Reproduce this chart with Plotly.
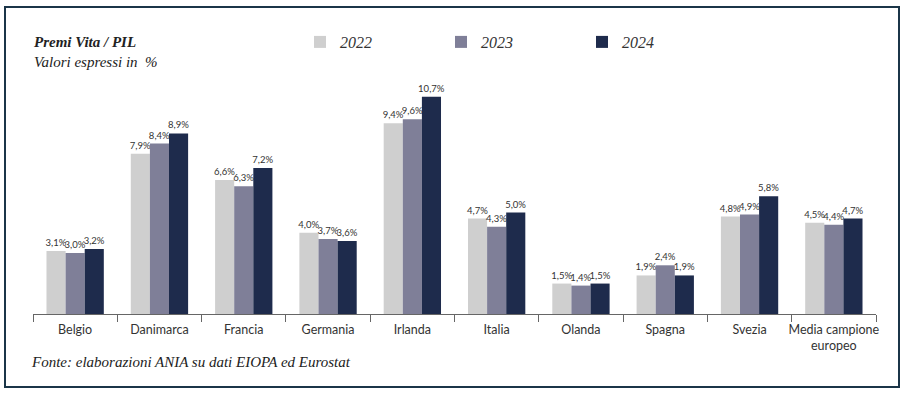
import plotly.graph_objects as go

categories = ["Belgio", "Danimarca", "Francia", "Germania", "Irlanda", "Italia",
              "Olanda", "Spagna", "Svezia", "Media campione<br>europeo"]
years = ["2022", "2023", "2024"]
v2022 = [3.1, 7.9, 6.6, 4.0, 9.4, 4.7, 1.5, 1.9, 4.8, 4.5]
v2023 = [3.0, 8.4, 6.3, 3.7, 9.6, 4.3, 1.4, 2.4, 4.9, 4.4]
v2024 = [3.2, 8.9, 7.2, 3.6, 10.7, 5.0, 1.5, 1.9, 5.8, 4.7]
colors = ["#cfcfcf", "#7f7f98", "#1e2b4c"]

W, H = 907, 393
L, R, T, B = 33, 876, 80, 314  # plot area in pixels

def px_x(p):
    return (p - L) / (R - L)

def px_y(p):
    return (B - p) / (B - T)

sans = "Lato"
serif = "Times New Roman"

fig = go.Figure()
for name, vals, col in zip(years, [v2022, v2023, v2024], colors):
    fig.add_trace(go.Bar(
        x=categories, y=vals, name=name, marker_color=col, marker_line_width=0,
        texttemplate="%{y:.1f}%", textposition="outside", constraintext="none",
        cliponaxis=False,
        textfont=dict(family=sans, size=9.5, color="#333333"),
    ))

fig.update_layout(
    width=W, height=H,
    margin=dict(l=L, r=W - R, t=T, b=H - B, autoexpand=False),
    paper_bgcolor="white", plot_bgcolor="white",
    separators=",.",
    barmode="group", bargap=0.32, bargroupgap=0.0,
    showlegend=True,
    legend=dict(
        orientation="h", xref="container", yref="container",
        x=300 / W, y=1 - 42 / H, xanchor="left", yanchor="middle",
        entrywidth=96, entrywidthmode="pixels",
        font=dict(family=serif, size=16, color="#333333", style="italic"),
        bgcolor="rgba(0,0,0,0)", traceorder="normal",
    ),
    xaxis=dict(
        showline=True, linecolor="#666666", linewidth=1,
        ticks="outside", tickson="boundaries", ticklen=7, tickcolor="#666666",
        tickangle=0, automargin=False, ticklabelstandoff=4,
        tickfont=dict(family=sans, size=12.5, color="#333333"),
        showgrid=False,
    ),
    yaxis=dict(range=[0, 11.53], visible=False, showgrid=False, automargin=False),
    annotations=[
        dict(text="<b><i>Premi Vita / PIL</i></b>", xref="paper", yref="paper",
             x=px_x(32), y=px_y(42), xanchor="left", yanchor="middle", showarrow=False,
             font=dict(family=serif, size=15, color="#222222")),
        dict(text="<i>Valori espressi in  %</i>", xref="paper", yref="paper",
             x=px_x(32), y=px_y(62), xanchor="left", yanchor="middle", showarrow=False,
             font=dict(family=serif, size=15, color="#222222")),
        dict(text="<i>Fonte: elaborazioni ANIA su dati EIOPA ed Eurostat</i>", xref="paper", yref="paper",
             x=px_x(29), y=px_y(362), xanchor="left", yanchor="middle", showarrow=False,
             font=dict(family=serif, size=15, color="#222222")),
    ],
    shapes=[
        dict(type="rect", xref="paper", yref="paper",
             x0=px_x(5), x1=px_x(899), y0=px_y(387), y1=px_y(7),
             line=dict(color="#1b3548", width=2), fillcolor="rgba(0,0,0,0)", layer="below"),
    ],
)

fig.write_html("out.html", post_script="document.body.style.margin='0';",
               config={"displayModeBar": False})
